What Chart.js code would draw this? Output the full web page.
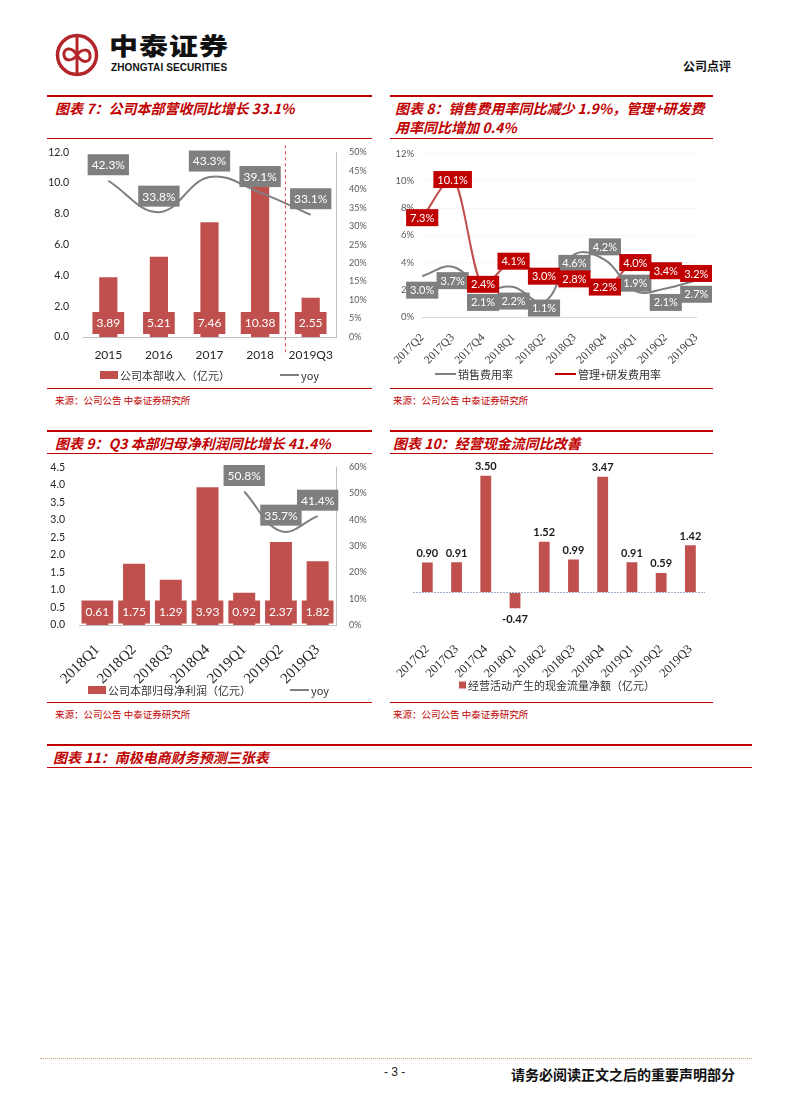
<!DOCTYPE html>
<html><head><meta charset="utf-8">
<script src="https://cdn.jsdelivr.net/npm/chart.js@4.4.0/dist/chart.umd.min.js"></script>
<style>
body{margin:0;width:792px;height:1120px;position:relative;background:#fff;font-family:"Noto Sans CJK SC",sans-serif;overflow:hidden;}
.rl{position:absolute;background:#c00000;}
.title{position:absolute;color:#c00000;font-weight:bold;font-style:italic;font-size:14px;line-height:19px;white-space:nowrap;}
.src{position:absolute;color:#c00000;font-size:9.5px;line-height:12px;white-space:nowrap;}
canvas{position:absolute;}
</style></head>
<body>
<svg style="position:absolute;left:55px;top:33px" width="44" height="44" viewBox="0 0 44 44">
 <circle cx="22" cy="22" r="19.5" fill="none" stroke="#b3262a" stroke-width="3.5"/>
 <line x1="22" y1="4" x2="22" y2="40" stroke="#b3262a" stroke-width="3"/>
 <path d="M22 22 C16 12 8 16 9 22 C10 29 18 28 22 22 C26 16 34 15 35 22 C36 29 28 32 22 22" fill="none" stroke="#b3262a" stroke-width="3"/>
</svg>
<div style="position:absolute;left:109px;top:30px;font-size:29px;font-weight:900;color:#111;letter-spacing:1px;transform:scaleY(0.82);transform-origin:top left;line-height:34px;">中泰证券</div>
<div style="position:absolute;left:111px;top:62px;font-size:10px;font-weight:bold;color:#111;font-family:'Liberation Sans',sans-serif;letter-spacing:0.1px;line-height:12px;">ZHONGTAI SECURITIES</div>
<div style="position:absolute;left:683px;top:59px;font-size:12px;font-weight:bold;color:#111;line-height:14px;">公司点评</div>

<!-- chart 7 frame -->
<div class="rl" style="left:47px;top:95px;width:325px;height:2px"></div>
<div class="title" style="left:55px;top:99px">图表 7：公司本部营收同比增长 33.1%</div>
<div class="rl" style="left:47px;top:138px;width:325px;height:1px"></div>
<div class="rl" style="left:47px;top:388px;width:325px;height:1px"></div>
<div class="src" style="left:55px;top:394px">来源：公司公告 中泰证券研究所</div>

<!-- chart 8 frame -->
<div class="rl" style="left:390px;top:95px;width:323px;height:2px"></div>
<div class="title" style="left:395px;top:99px">图表 8：销售费用率同比减少 1.9%，管理+研发费<br>用率同比增加 0.4%</div>
<div class="rl" style="left:390px;top:138px;width:323px;height:1px"></div>
<div class="rl" style="left:390px;top:388px;width:323px;height:1px"></div>
<div class="src" style="left:393px;top:394px">来源：公司公告 中泰证券研究所</div>

<!-- chart 9 frame -->
<div class="rl" style="left:47px;top:430px;width:325px;height:2px"></div>
<div class="title" style="left:55px;top:434px">图表 9：Q3 本部归母净利润同比增长 41.4%</div>
<div class="rl" style="left:47px;top:453px;width:325px;height:1px"></div>
<div class="rl" style="left:47px;top:702px;width:325px;height:1px"></div>
<div class="src" style="left:55px;top:708px">来源：公司公告 中泰证券研究所</div>

<!-- chart 10 frame -->
<div class="rl" style="left:390px;top:430px;width:323px;height:2px"></div>
<div class="title" style="left:393px;top:434px">图表 10：经营现金流同比改善</div>
<div class="rl" style="left:390px;top:453px;width:323px;height:1px"></div>
<div class="rl" style="left:390px;top:702px;width:323px;height:1px"></div>
<div class="src" style="left:393px;top:708px">来源：公司公告 中泰证券研究所</div>

<!-- chart 11 -->
<div class="rl" style="left:47px;top:744px;width:705px;height:2px"></div>
<div class="title" style="left:53px;top:748px">图表 11：南极电商财务预测三张表</div>
<div class="rl" style="left:47px;top:767px;width:705px;height:1px"></div>

<!-- footer -->
<div style="position:absolute;left:40px;top:1058px;width:712px;border-top:1px dotted #c9a77a;"></div>
<div style="position:absolute;left:384px;top:1065px;font-size:12px;color:#222;font-family:'Liberation Sans',sans-serif;">- 3 -</div>
<div style="position:absolute;left:511px;top:1064px;font-size:14px;font-weight:bold;color:#111;">请务必阅读正文之后的重要声明部分</div>

<canvas id="c7" width="325" height="246" style="left:47px;top:140px"></canvas>
<canvas id="c8" width="322" height="246" style="left:390px;top:140px"></canvas>
<canvas id="c9" width="325" height="245" style="left:47px;top:455px"></canvas>
<canvas id="c10" width="322" height="245" style="left:390px;top:455px"></canvas>

<script>
// ---------- data ----------
const c7Years = ['2015','2016','2017','2018','2019Q3'];
const c7Revenue = [3.89, 5.21, 7.46, 10.38, 2.55];
const c7Yoy = [42.3, 33.8, 43.3, 39.1, 33.1];

const c8Quarters = ['2017Q2','2017Q3','2017Q4','2018Q1','2018Q2','2018Q3','2018Q4','2019Q1','2019Q2','2019Q3'];
const c8Sales = [3.0, 3.7, 2.1, 2.2, 1.1, 4.6, 4.2, 1.9, 2.1, 2.7];
const c8AdminRD = [7.3, 10.1, 2.4, 4.1, 3.0, 2.8, 2.2, 4.0, 3.4, 3.2];

const c9Quarters = ['2018Q1','2018Q2','2018Q3','2018Q4','2019Q1','2019Q2','2019Q3'];
const c9Profit = [0.61, 1.75, 1.29, 3.93, 0.92, 2.37, 1.82];
const c9Yoy = [null, null, null, null, 50.8, 35.7, 41.4];

const c10Quarters = ['2017Q2','2017Q3','2017Q4','2018Q1','2018Q2','2018Q3','2018Q4','2019Q1','2019Q2','2019Q3'];
const c10Cash = [0.90, 0.91, 3.50, -0.47, 1.52, 0.99, 3.47, 0.91, 0.59, 1.42];

// ---------- helpers ----------
Chart.defaults.font.family = "Lato, 'Noto Sans CJK SC', sans-serif";
Chart.defaults.animation = false;
Chart.defaults.plugins.legend.display = false;
Chart.defaults.plugins.tooltip.enabled = false;
const CJK = "'Noto Sans CJK SC', sans-serif";
const RED = '#c0504d', GRAY = '#7f7f7f';

function drawBox(ctx, text, cx, cy, bg, color, font, padX, h){
  ctx.save();
  ctx.font = font;
  const w = ctx.measureText(text).width + padX*2;
  ctx.fillStyle = bg;
  ctx.fillRect(cx - w/2, cy - h/2, w, h);
  ctx.fillStyle = color;
  ctx.textAlign = 'center';
  ctx.textBaseline = 'middle';
  ctx.fillText(text, cx, cy + 0.5);
  ctx.restore();
}
function legend(ctx, cy, items){
  ctx.save();
  ctx.font = '11px ' + CJK;
  ctx.textBaseline = 'middle';
  ctx.fillStyle = '#333';
  items.forEach(it=>{
    if(it.type==='box'){ ctx.fillStyle = it.color; ctx.fillRect(it.x, cy - it.h/2, it.w, it.h); }
    else { ctx.strokeStyle = it.color; ctx.lineWidth = 2; ctx.beginPath(); ctx.moveTo(it.x, cy); ctx.lineTo(it.x + it.w, cy); ctx.stroke(); }
    ctx.fillStyle = '#333';
    ctx.fillText(it.text, it.x + it.w + 2, cy + 0.5);
  });
  ctx.restore();
}

// ---------- chart 7 ----------
new Chart(document.getElementById('c7'), {
  data: {
    labels: c7Years,
    datasets: [
      {type:'bar', data:c7Revenue, backgroundColor:RED, yAxisID:'y', barPercentage:0.36, categoryPercentage:1, order:2},
      {type:'line', data:c7Yoy, borderColor:GRAY, borderWidth:2, pointRadius:0, tension:0.4, yAxisID:'y1', order:1}
    ]
  },
  options: {
    responsive:false,
    layout:{padding:{top:10,left:0,right:0,bottom:0}},
    scales:{
      x:{grid:{display:false}, border:{color:'#bfbfbf'}, ticks:{color:'#262626', font:{size:12}, padding:3}, afterFit(s){s.height=49;}},
      y:{position:'left', min:0, max:12, grid:{display:false}, border:{display:false},
         ticks:{stepSize:2, callback:v=>v.toFixed(1), color:'#262626', font:{size:10.5}, padding:6}, afterFit(s){s.width=36;}},
      y1:{position:'right', min:0, max:50, grid:{display:false}, border:{color:'#bfbfbf'},
         ticks:{stepSize:5, callback:v=>v+'%', color:'#595959', font:{size:9}, padding:5}, afterFit(s){s.width=36;}}
    }
  },
  plugins:[{
    id:'c7labels',
    afterDatasetsDraw(chart){
      const {ctx, scales:{x,y}, chartArea} = chart;
      const xs = (x.getPixelForValue(3) + x.getPixelForValue(4))/2;
      ctx.save(); ctx.strokeStyle='#e03c3c'; ctx.lineWidth=1; ctx.setLineDash([3,3]);
      ctx.beginPath(); ctx.moveTo(xs, chartArea.top-7); ctx.lineTo(xs, chartArea.bottom+18); ctx.stroke(); ctx.restore();
      const y0 = y.getPixelForValue(0);
      chart.getDatasetMeta(0).data.forEach((el,i)=>drawBox(ctx, c7Revenue[i].toFixed(2), el.x, y0-14, RED, '#fff', '12px Lato', 4, 22));
      chart.getDatasetMeta(1).data.forEach((el,i)=>drawBox(ctx, c7Yoy[i].toFixed(1)+'%', el.x, el.y-16, GRAY, '#fff', '12px Lato', 4, 21));
      legend(ctx, chartArea.bottom+38, [
        {type:'box', color:RED, x:53, w:18, h:8, text:'公司本部收入（亿元）'},
        {type:'line', color:GRAY, x:233, w:19, text:'yoy'}
      ]);
    }
  }]
});

// ---------- chart 8 ----------
const c8SalesLabelDy = [14,14,14,14,6,9,-13,-8,14,14];
new Chart(document.getElementById('c8'), {
  type:'line',
  data: {
    labels: c8Quarters,
    datasets: [
      {data:c8Sales, borderColor:GRAY, borderWidth:2, pointRadius:0, tension:0.4},
      {data:c8AdminRD, borderColor:RED, borderWidth:2, pointRadius:0, cubicInterpolationMode:'monotone'}
    ]
  },
  options: {
    responsive:false,
    layout:{padding:{top:11,left:0,right:9,bottom:0}},
    scales:{
      x:{grid:{display:false}, border:{color:'#d9d9d9'},
         ticks:{color:'#404040', font:{size:11.5, family:"'Liberation Serif', serif"}, minRotation:45, maxRotation:45, padding:6},
         afterFit(s){s.height=69;}},
      y:{min:0, max:12, border:{display:false, dash:[1,3]},
         grid:{color:c=>c.tick.value===0?'rgba(0,0,0,0)':'#efd9e2', drawTicks:false},
         ticks:{stepSize:2, callback:v=>v+'%', color:'#595959', font:{size:9.5}, padding:8}, afterFit(s){s.width=32;}}
    }
  },
  plugins:[{
    id:'c8labels',
    afterDatasetsDraw(chart){
      const {ctx, chartArea} = chart;
      chart.getDatasetMeta(0).data.forEach((el,i)=>drawBox(ctx, c8Sales[i].toFixed(1)+'%', el.x, el.y + c8SalesLabelDy[i], GRAY, '#fff', '11px Lato', 4, 17));
      chart.getDatasetMeta(1).data.forEach((el,i)=>drawBox(ctx, c8AdminRD[i].toFixed(1)+'%', el.x, el.y, '#c00000', '#fff', '11px Lato', 4, 17));
      legend(ctx, chartArea.bottom+57, [
        {type:'line', color:GRAY, x:45, w:21, text:'销售费用率'},
        {type:'line', color:'#c00000', x:165, w:21, text:'管理+研发费用率'}
      ]);
    }
  }]
});

// ---------- chart 9 ----------
new Chart(document.getElementById('c9'), {
  data: {
    labels: c9Quarters,
    datasets: [
      {type:'bar', data:c9Profit, backgroundColor:RED, yAxisID:'y', barPercentage:0.6, categoryPercentage:1, order:2},
      {type:'line', data:c9Yoy, borderColor:GRAY, borderWidth:2, pointRadius:0, tension:0.4, yAxisID:'y1', order:1}
    ]
  },
  options: {
    responsive:false,
    layout:{padding:{top:9,left:0,right:0,bottom:0}},
    scales:{
      x:{grid:{display:false}, border:{color:'#bfbfbf'},
         ticks:{color:'#262626', font:{size:15, family:"'Liberation Serif', serif"}, minRotation:45, maxRotation:45, padding:8},
         afterFit(s){s.height=75;}},
      y:{position:'left', min:0, max:4.5, grid:{display:false}, border:{display:false},
         ticks:{stepSize:0.5, callback:v=>v.toFixed(1), color:'#262626', font:{size:10.5}, padding:6}, afterFit(s){s.width=32;}},
      y1:{position:'right', min:0, max:60, grid:{display:false}, border:{color:'#bfbfbf'},
         ticks:{stepSize:10, callback:v=>v+'%', color:'#595959', font:{size:9}, padding:5}, afterFit(s){s.width=36;}}
    }
  },
  plugins:[{
    id:'c9labels',
    afterDatasetsDraw(chart){
      const {ctx, scales:{y}, chartArea} = chart;
      const y0 = y.getPixelForValue(0);
      chart.getDatasetMeta(0).data.forEach((el,i)=>drawBox(ctx, c9Profit[i].toFixed(2), el.x, y0-13, RED, '#fff', '12px Lato', 4, 23));
      chart.getDatasetMeta(1).data.forEach((el,i)=>{ if(c9Yoy[i]!=null) drawBox(ctx, c9Yoy[i].toFixed(1)+'%', el.x, el.y-16, GRAY, '#fff', '12px Lato', 4, 21); });
      legend(ctx, chartArea.bottom+65, [
        {type:'box', color:RED, x:41, w:18, h:8, text:'公司本部归母净利润（亿元）'},
        {type:'line', color:GRAY, x:243, w:19, text:'yoy'}
      ]);
    }
  }]
});

// ---------- chart 10 ----------
new Chart(document.getElementById('c10'), {
  type:'bar',
  data: {
    labels: c10Quarters,
    datasets: [
      {data:c10Cash, backgroundColor:RED, barPercentage:0.37, categoryPercentage:1}
    ]
  },
  options: {
    responsive:false,
    layout:{padding:{top:4,left:17,right:7,bottom:0}},
    scales:{
      x:{grid:{display:false}, border:{display:false},
         ticks:{color:'#262626', font:{size:12.5, family:"'Liberation Serif', serif"}, minRotation:45, maxRotation:45, padding:8},
         afterFit(s){s.height=74;}},
      y:{min:-1, max:4, border:{display:false, dash:[2,1]},
         grid:{color:c=>c.tick.value===0?'#9fb0c6':'rgba(0,0,0,0)', drawTicks:false},
         ticks:{display:false, stepSize:1}, afterFit(s){s.width=0;}}
    }
  },
  plugins:[{
    id:'c10labels',
    afterDatasetsDraw(chart){
      const {ctx, chartArea} = chart;
      ctx.save();
      ctx.font = 'bold 11px Lato';
      ctx.fillStyle = '#1a1a1a';
      ctx.textAlign = 'center';
      ctx.textBaseline = 'middle';
      chart.getDatasetMeta(0).data.forEach((el,i)=>{
        const v = c10Cash[i];
        const yy = v >= 0 ? el.y - 9 : el.y + 11;
        ctx.fillText(v.toFixed(2), el.x, yy);
      });
      ctx.restore();
      legend(ctx, chartArea.bottom+59, [
        {type:'box', color:RED, x:69, w:7, h:7, text:'经营活动产生的现金流量净额（亿元）'}
      ]);
    }
  }]
});
</script>
</body></html>
